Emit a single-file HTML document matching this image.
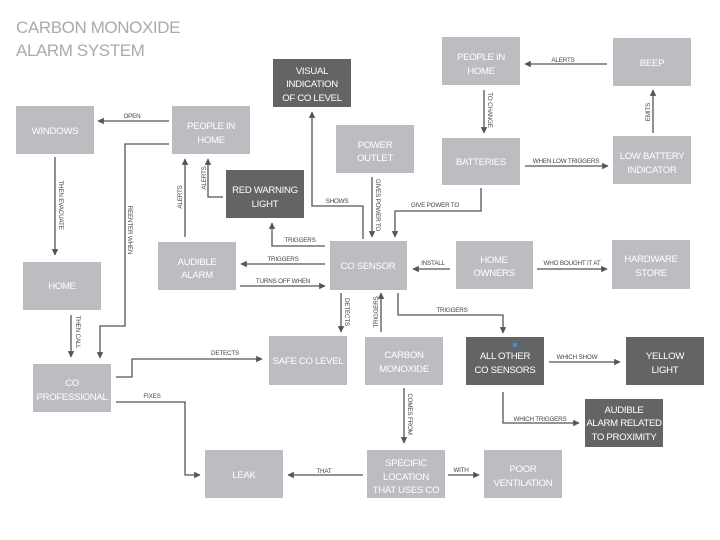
<!DOCTYPE html>
<html><head><meta charset="utf-8"><style>
html,body{margin:0;padding:0;background:#fff}
svg{display:block}
.b{fill:#bcbdc0}.d{fill:#636466}
.t{font-family:"Liberation Sans",sans-serif;font-size:9.6px;letter-spacing:-0.3px;fill:#fff;text-anchor:middle}
.l{font-family:"Liberation Sans",sans-serif;font-size:6.3px;letter-spacing:-0.2px;fill:#444;text-anchor:middle}
path{fill:none;stroke:#555;stroke-width:1.3}
</style></head><body>
<svg width="720" height="540" viewBox="0 0 720 540" xmlns="http://www.w3.org/2000/svg">
<defs><marker id="a" viewBox="0 0 10 10" refX="9" refY="5" markerWidth="5" markerHeight="5" orient="auto"><path d="M0,0L10,5L0,10z" style="fill:#555;stroke:none"/></marker></defs>
<text x="16" y="33" font-family="Liberation Sans,sans-serif" font-size="17" letter-spacing="-0.4" fill="#aaa">CARBON MONOXIDE</text>
<text x="16" y="56" font-family="Liberation Sans,sans-serif" font-size="17" letter-spacing="-0.4" fill="#aaa">ALARM SYSTEM</text>

<rect class="b" x="16" y="106" width="78" height="48"/><text class="t" x="55" y="134">WINDOWS</text>
<rect class="b" x="172" y="106" width="78" height="48"/><text class="t" x="211" y="129">PEOPLE IN</text><text class="t" x="211" y="143">HOME</text>
<rect class="d" x="273" y="59" width="78" height="48"/><text class="t" x="312" y="74">VISUAL</text><text class="t" x="312" y="87">INDICATION</text><text class="t" x="312" y="101">OF CO LEVEL</text>
<rect class="d" x="226" y="170" width="78" height="48"/><text class="t" x="265" y="193">RED WARNING</text><text class="t" x="265" y="207">LIGHT</text>
<rect class="b" x="336" y="125" width="78" height="48"/><text class="t" x="375" y="148">POWER</text><text class="t" x="375" y="161">OUTLET</text>
<rect class="b" x="158" y="242" width="78" height="48"/><text class="t" x="197" y="265">AUDIBLE</text><text class="t" x="197" y="278">ALARM</text>
<rect class="b" x="330" y="241" width="77" height="49"/><text class="t" x="368" y="269">CO SENSOR</text>
<rect class="b" x="456" y="241" width="77" height="48"/><text class="t" x="494" y="263">HOME</text><text class="t" x="494" y="276">OWNERS</text>
<rect class="b" x="612" y="240" width="78" height="49"/><text class="t" x="651" y="262">HARDWARE</text><text class="t" x="651" y="276">STORE</text>
<rect class="b" x="442" y="37" width="78" height="48"/><text class="t" x="481" y="60">PEOPLE IN</text><text class="t" x="481" y="74">HOME</text>
<rect class="b" x="613" y="38" width="78" height="48"/><text class="t" x="652" y="66">BEEP</text>
<rect class="b" x="442" y="138" width="78" height="47"/><text class="t" x="481" y="165">BATTERIES</text>
<rect class="b" x="613" y="136" width="78" height="48"/><text class="t" x="652" y="159">LOW BATTERY</text><text class="t" x="652" y="173">INDICATOR</text>
<rect class="b" x="23" y="262" width="78" height="48"/><text class="t" x="62" y="289">HOME</text>
<rect class="b" x="33" y="364" width="78" height="48"/><text class="t" x="72" y="386">CO</text><text class="t" x="72" y="400">PROFESSIONAL</text>
<rect class="b" x="269" y="336" width="78" height="49"/><text class="t" x="308" y="364">SAFE CO LEVEL</text>
<rect class="b" x="365" y="337" width="78" height="48"/><text class="t" x="404" y="358">CARBON</text><text class="t" x="404" y="372">MONOXIDE</text>
<rect class="d" x="466" y="337" width="78" height="48"/><text class="t" x="505" y="359">ALL OTHER</text><text class="t" x="505" y="373">CO SENSORS</text>
<circle cx="515" cy="345" r="2.3" fill="#3a8fd8"/>
<rect class="d" x="626" y="337" width="78" height="48"/><text class="t" x="665" y="359">YELLOW</text><text class="t" x="665" y="373">LIGHT</text>
<rect class="d" x="585" y="399" width="78" height="48"/><text class="t" x="624" y="413">AUDIBLE</text><text class="t" x="624" y="426">ALARM RELATED</text><text class="t" x="624" y="440">TO PROXIMITY</text>
<rect class="b" x="205" y="450" width="78" height="48"/><text class="t" x="244" y="478">LEAK</text>
<rect class="b" x="367" y="450" width="78" height="48"/><text class="t" x="406" y="466">SPECIFIC</text><text class="t" x="406" y="480">LOCATION</text><text class="t" x="406" y="493">THAT USES CO</text>
<rect class="b" x="484" y="450" width="78" height="48"/><text class="t" x="523" y="472">POOR</text><text class="t" x="523" y="486">VENTILATION</text>

<g marker-end="url(#a)">
<path d="M169,121H98"/>
<path d="M169,144H125V326H100V358"/>
<path d="M55,157V255"/>
<path d="M71,315V357"/>
<path d="M116,377H132V359H262"/>
<path d="M116,402H185V475H200"/>
<path d="M363,475H288"/>
<path d="M448,475H479"/>
<path d="M404,388V443"/>
<path d="M381,332V293"/>
<path d="M341,293V332"/>
<path d="M398,293V315H503V333"/>
<path d="M549,362H620"/>
<path d="M503,392V423H579"/>
<path d="M450,269H413"/>
<path d="M537,269H607"/>
<path d="M325,264H241"/>
<path d="M240,286H325"/>
<path d="M325,246H272V223"/>
<path d="M185,237V159"/>
<path d="M223,197H208V159"/>
<path d="M363,239V206H312V112"/>
<path d="M372,177V237"/>
<path d="M481,188V211H395V237"/>
<path d="M484,90V133"/>
<path d="M607,64H525"/>
<path d="M525,166H608"/>
<path d="M653,133V90"/>
</g>

<text class="l" x="132" y="118">OPEN</text>
<text class="l" x="337" y="203">SHOWS</text>
<text class="l" x="300" y="242">TRIGGERS</text>
<text class="l" x="283" y="261">TRIGGERS</text>
<text class="l" x="283" y="283">TURNS OFF WHEN</text>
<text class="l" x="433" y="265">INSTALL</text>
<text class="l" x="572" y="265">WHO BOUGHT IT AT</text>
<text class="l" x="563" y="62">ALERTS</text>
<text class="l" x="566" y="163">WHEN LOW TRIGGERS</text>
<text class="l" x="435" y="207">GIVE POWER TO</text>
<text class="l" x="452" y="312">TRIGGERS</text>
<text class="l" x="225" y="355">DETECTS</text>
<text class="l" x="152" y="398">FIXES</text>
<text class="l" x="324" y="473">THAT</text>
<text class="l" x="461" y="472">WITH</text>
<text class="l" x="577" y="359">WHICH SHOW</text>
<text class="l" x="540" y="421">WHICH TRIGGERS</text>

<text class="l" transform="translate(59,205) rotate(90)">THEN EVACUATE</text>
<text class="l" transform="translate(128,230) rotate(90)">REENTER WHEN</text>
<text class="l" transform="translate(76,332) rotate(90)">THEN CALL</text>
<text class="l" transform="translate(182,197) rotate(-90)">ALERTS</text>
<text class="l" transform="translate(206,178) rotate(-90)">ALERTS</text>
<text class="l" transform="translate(376,205) rotate(90)">GIVES POWER TO</text>
<text class="l" transform="translate(488,110) rotate(90)">TO CHANGE</text>
<text class="l" transform="translate(650,112) rotate(-90)">EMITS</text>
<text class="l" transform="translate(345,312) rotate(90)">DETECTS</text>
<text class="l" transform="translate(378,312) rotate(-90)">TRIGGERS</text>
<text class="l" transform="translate(408,414) rotate(90)">COMES FROM</text>
</svg>
</body></html>
